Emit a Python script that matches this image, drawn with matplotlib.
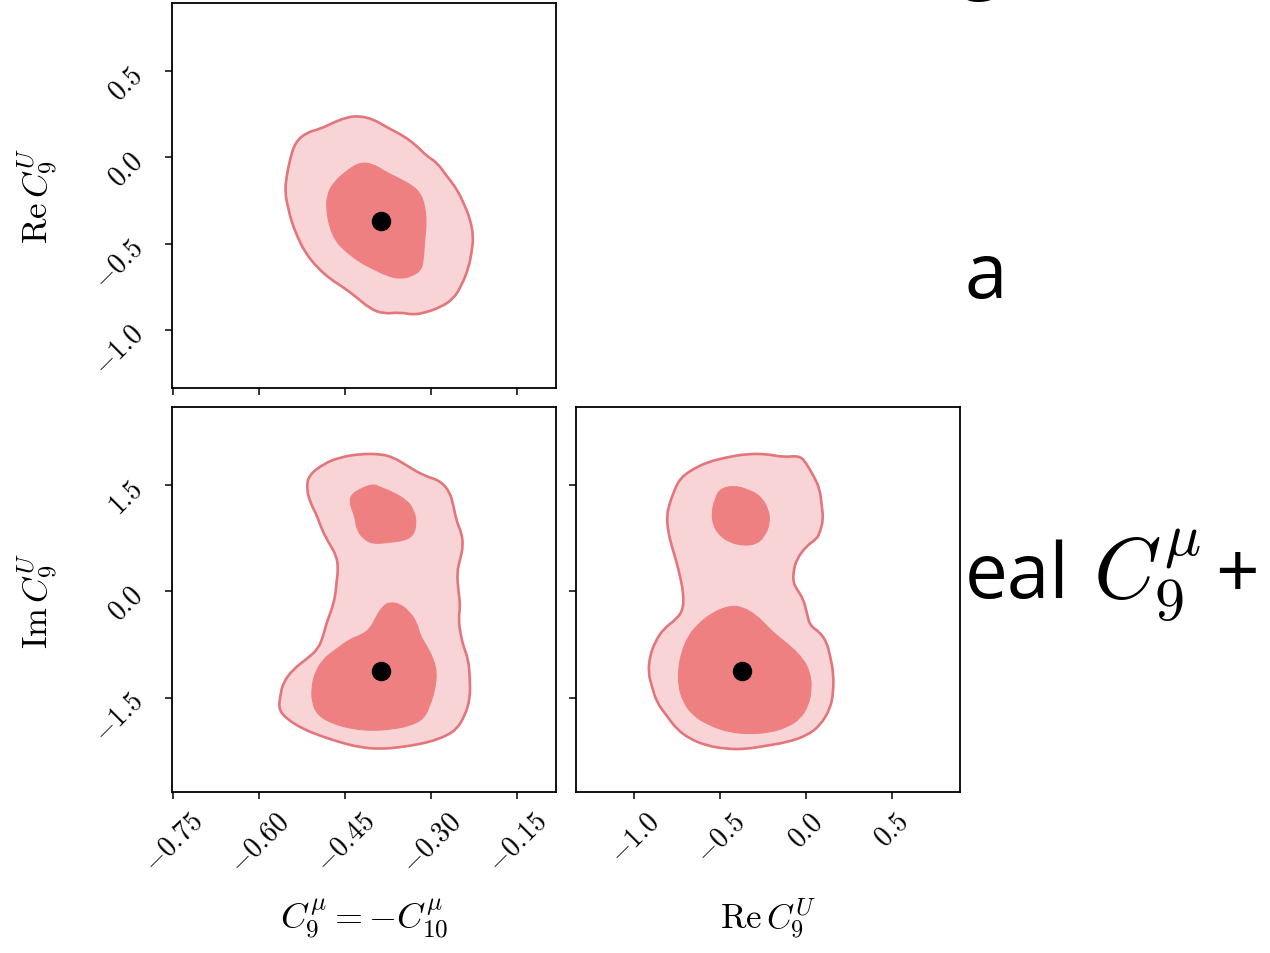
import matplotlib
matplotlib.use("Agg")
import numpy as np
import matplotlib.pyplot as plt
from matplotlib.path import Path
from matplotlib.patches import PathPatch
from matplotlib.ticker import FixedLocator, FuncFormatter

plt.rcParams['mathtext.fontset'] = 'cm'
plt.rcParams['font.family'] = 'serif'

# best fit point
best_c9 = -0.387
best_re = -0.370
best_im = -1.12

# axis ranges and ticks
c9_lim = (-0.752, -0.082)
re_lim = (-1.337, 0.895)
im_lim = (-2.837, 2.61)
c9_ticks = [-0.75, -0.60, -0.45, -0.30, -0.15]
re_ticks = [-1.0, -0.5, 0.0, 0.5]
im_ticks = [-1.5, 0.0, 1.5]

# contours: C9 vs Re C9U
c9re_outer_c9 = [-0.427, -0.401, -0.377, -0.348, -0.325, -0.308, -0.290, -0.273, -0.255, -0.241,
                 -0.232, -0.226, -0.229, -0.235, -0.247, -0.261, -0.284, -0.308, -0.331, -0.354,
                 -0.383, -0.406, -0.430, -0.453, -0.476, -0.499, -0.520, -0.534, -0.543, -0.549,
                 -0.555, -0.552, -0.546, -0.537, -0.517, -0.494, -0.470, -0.447]
c9re_outer_re = [0.241, 0.222, 0.174, 0.125, 0.067, 0.009, -0.029, -0.106, -0.183, -0.280,
                 -0.357, -0.454, -0.550, -0.647, -0.743, -0.821, -0.869, -0.898, -0.913, -0.898,
                 -0.907, -0.878, -0.811, -0.753, -0.705, -0.637, -0.550, -0.454, -0.376, -0.299,
                 -0.203, -0.106, -0.010, 0.087, 0.145, 0.164, 0.203, 0.232]
c9re_inner_c9 = [-0.424, -0.401, -0.383, -0.360, -0.337, -0.319, -0.311, -0.308, -0.311, -0.313,
                 -0.316, -0.331, -0.354, -0.377, -0.401, -0.424, -0.447, -0.465, -0.476, -0.482,
                 -0.482, -0.470, -0.447]
c9re_inner_re = [-0.029, -0.039, -0.077, -0.116, -0.155, -0.203, -0.280, -0.376, -0.473, -0.570,
                 -0.647, -0.686, -0.705, -0.686, -0.647, -0.608, -0.550, -0.492, -0.415, -0.318,
                 -0.222, -0.145, -0.077]

# C9 vs Im C9U
c9im_outer_c9 = [-0.517, -0.514, -0.488, -0.459, -0.424, -0.389, -0.366, -0.342, -0.313, -0.284,
                 -0.267, -0.261, -0.255, -0.247, -0.244, -0.249, -0.255, -0.252, -0.249, -0.252,
                 -0.249, -0.244, -0.235, -0.232, -0.232, -0.241, -0.255, -0.273, -0.296, -0.319,
                 -0.354, -0.389, -0.424, -0.459, -0.494, -0.523, -0.552, -0.566, -0.563, -0.558,
                 -0.540, -0.517, -0.497, -0.488, -0.482, -0.473, -0.467, -0.465, -0.462, -0.465,
                 -0.479, -0.491, -0.499, -0.511]
c9im_outer_im = [1.450, 1.639, 1.804, 1.899, 1.946, 1.946, 1.899, 1.780, 1.639, 1.568,
                 1.404, 1.214, 0.979, 0.838, 0.648, 0.460, 0.272, -0.011, -0.201, -0.389,
                 -0.577, -0.767, -0.955, -1.238, -1.521, -1.757, -1.946, -2.040, -2.111, -2.158,
                 -2.205, -2.229, -2.205, -2.134, -2.040, -1.946, -1.804, -1.663, -1.474, -1.285,
                 -1.097, -0.955, -0.814, -0.625, -0.436, -0.248, -0.059, 0.130, 0.318, 0.507,
                 0.696, 0.884, 1.073, 1.262]
c9im_top_c9 = [-0.441, -0.424, -0.401, -0.389, -0.366, -0.342, -0.331, -0.325, -0.331, -0.348,
               -0.372, -0.401, -0.418, -0.430, -0.433, -0.441]
c9im_top_im = [1.356, 1.450, 1.521, 1.474, 1.404, 1.285, 1.167, 0.979, 0.790, 0.719,
               0.696, 0.672, 0.743, 0.884, 1.073, 1.214]
c9im_low_c9 = [-0.372, -0.354, -0.337, -0.325, -0.319, -0.308, -0.296, -0.290, -0.293, -0.302,
               -0.313, -0.337, -0.366, -0.401, -0.436, -0.470, -0.497, -0.508, -0.508, -0.502,
               -0.488, -0.465, -0.441, -0.424, -0.406, -0.395, -0.383]
c9im_low_im = [-0.153, -0.177, -0.295, -0.436, -0.625, -0.767, -0.955, -1.144, -1.380, -1.616,
               -1.804, -1.899, -1.946, -1.970, -1.946, -1.875, -1.757, -1.568, -1.333, -1.144,
               -0.955, -0.814, -0.672, -0.625, -0.531, -0.342, -0.201]

# Re C9U vs Im C9U
reim_outer_re = [-0.674, -0.577, -0.461, -0.345, -0.229, -0.132, -0.035, 0.004, 0.043, 0.081,
                 0.091, 0.101, 0.081, 0.062, 0.004, -0.054, -0.074, -0.074, -0.054, -0.016,
                 0.004, 0.023, 0.081, 0.120, 0.140, 0.159, 0.159, 0.140, 0.081, 0.004,
                 -0.112, -0.229, -0.345, -0.461, -0.577, -0.674, -0.752, -0.810, -0.868, -0.897,
                 -0.917, -0.907, -0.878, -0.830, -0.752, -0.713, -0.713, -0.733, -0.752, -0.781,
                 -0.801, -0.810, -0.791, -0.762, -0.733]
reim_outer_im = [1.709, 1.828, 1.899, 1.946, 1.946, 1.899, 1.922, 1.804, 1.639, 1.450,
                 1.214, 1.026, 0.838, 0.743, 0.648, 0.460, 0.272, 0.130, 0.035, -0.106,
                 -0.295, -0.484, -0.577, -0.719, -0.908, -1.144, -1.427, -1.663, -1.899, -2.040,
                 -2.134, -2.181, -2.229, -2.229, -2.181, -2.087, -1.946, -1.757, -1.568, -1.333,
                 -1.144, -0.908, -0.719, -0.531, -0.389, -0.248, -0.011, 0.224, 0.413, 0.648,
                 0.838, 1.073, 1.262, 1.450, 1.592]
reim_top_re = [-0.500, -0.423, -0.345, -0.267, -0.219, -0.209, -0.238, -0.287, -0.365, -0.442,
               -0.500, -0.539, -0.548, -0.529]
reim_top_im = [1.450, 1.497, 1.450, 1.356, 1.167, 0.979, 0.790, 0.672, 0.648, 0.696,
               0.790, 0.931, 1.121, 1.309]
reim_low_re = [-0.442, -0.365, -0.287, -0.229, -0.170, -0.093, -0.016, 0.023, 0.033, 0.013,
               -0.035, -0.112, -0.209, -0.326, -0.442, -0.558, -0.655, -0.713, -0.742, -0.742,
               -0.723, -0.684, -0.616, -0.539]
reim_low_im = [-0.201, -0.224, -0.342, -0.484, -0.625, -0.767, -0.955, -1.144, -1.380, -1.616,
               -1.804, -1.922, -1.993, -2.016, -1.993, -1.899, -1.757, -1.568, -1.333, -1.097,
               -0.861, -0.625, -0.436, -0.295]

light = '#f8d4d6'
dark = '#ee8082'
edge = '#e2767b'

fig = plt.figure(figsize=(12.7, 9.54), dpi=100)
ax_top = fig.add_axes([0.13543, 0.59224, 0.30236, 0.40356])
ax_bl = fig.add_axes([0.13543, 0.16876, 0.30236, 0.40356])
ax_br = fig.add_axes([0.45354, 0.16876, 0.30236, 0.40356])


def fmt(decimals):
    return FuncFormatter(lambda v, p: '$%.*f$' % (decimals, v))


def smooth_patch(xs, ys, **kw):
    # closed outline drawn as quadratic curves with the read points as control points
    pts = np.column_stack([xs, ys])
    nxt = np.roll(pts, -1, axis=0)
    mids = (pts + nxt) / 2
    verts = [mids[-1]]
    codes = [Path.MOVETO]
    for p, m in zip(pts, mids):
        verts += [p, m]
        codes += [Path.CURVE3, Path.CURVE3]
    return PathPatch(Path(verts, codes), **kw)


def panel(ax, outer, inners, best):
    ax.add_patch(smooth_patch(outer[0], outer[1], facecolor=light, edgecolor=edge, lw=1.9))
    for xs, ys in inners:
        ax.add_patch(smooth_patch(xs, ys, facecolor=dark, edgecolor=dark, lw=0.8))
    ax.plot([best[0]], [best[1]], 'o', color='k', ms=13)
    for s in ax.spines.values():
        s.set_linewidth(1.3)
    ax.tick_params(direction='out', length=5, width=1.1, labelsize=20)
    ax.tick_params(axis='x', pad=6)
    ax.tick_params(axis='y', pad=12)


panel(ax_top, (c9re_outer_c9, c9re_outer_re), [(c9re_inner_c9, c9re_inner_re)],
      (best_c9, best_re))
panel(ax_bl, (c9im_outer_c9, c9im_outer_im),
      [(c9im_top_c9, c9im_top_im), (c9im_low_c9, c9im_low_im)], (best_c9, best_im))
panel(ax_br, (reim_outer_re, reim_outer_im),
      [(reim_top_re, reim_top_im), (reim_low_re, reim_low_im)], (best_re, best_im))

ax_top.set_xlim(c9_lim)
ax_top.set_ylim(re_lim)
ax_top.xaxis.set_major_locator(FixedLocator(c9_ticks))
ax_top.set_xticklabels([])
ax_top.yaxis.set_major_locator(FixedLocator(re_ticks))
ax_top.yaxis.set_major_formatter(fmt(1))
ax_top.set_ylabel(r'$\mathrm{Re}\,C_9^U$', fontsize=25)

ax_bl.set_xlim(c9_lim)
ax_bl.set_ylim(im_lim)
ax_bl.xaxis.set_major_locator(FixedLocator(c9_ticks))
ax_bl.xaxis.set_major_formatter(fmt(2))
ax_bl.yaxis.set_major_locator(FixedLocator(im_ticks))
ax_bl.yaxis.set_major_formatter(fmt(1))
ax_bl.set_xlabel(r'$C_9^\mu = -C_{10}^\mu$', fontsize=26)
ax_bl.set_ylabel(r'$\mathrm{Im}\,C_9^U$', fontsize=25)

ax_br.set_xlim(re_lim)
ax_br.set_ylim(im_lim)
ax_br.xaxis.set_major_locator(FixedLocator(re_ticks))
ax_br.xaxis.set_major_formatter(fmt(1))
ax_br.yaxis.set_major_locator(FixedLocator(im_ticks))
ax_br.set_yticklabels([])
ax_br.set_xlabel(r'$\mathrm{Re}\,C_9^U$', fontsize=25)

for ax in (ax_top, ax_bl, ax_br):
    for lab in ax.get_xticklabels() + ax.get_yticklabels():
        lab.set_rotation(45)
    ax.yaxis.set_label_coords(-0.29, 0.5)
    ax.xaxis.set_label_coords(0.5, -0.27)

# slide text cut off at the right
fig.text(0.756, 1.017, 'g', fontsize=55, family='Open Sans', va='baseline')
fig.text(0.7598, 0.6875, 'a', fontsize=55, family='Open Sans', va='baseline')
fig.text(0.7598, 0.373, 'eal', fontsize=55, family='Open Sans', va='baseline')
fig.text(0.861, 0.373, r'$C_9^\mu$', fontsize=62, va='baseline')
fig.text(0.957, 0.373, '+', fontsize=55, family='Open Sans', va='baseline')

fig.savefig('out.png', dpi=100)
